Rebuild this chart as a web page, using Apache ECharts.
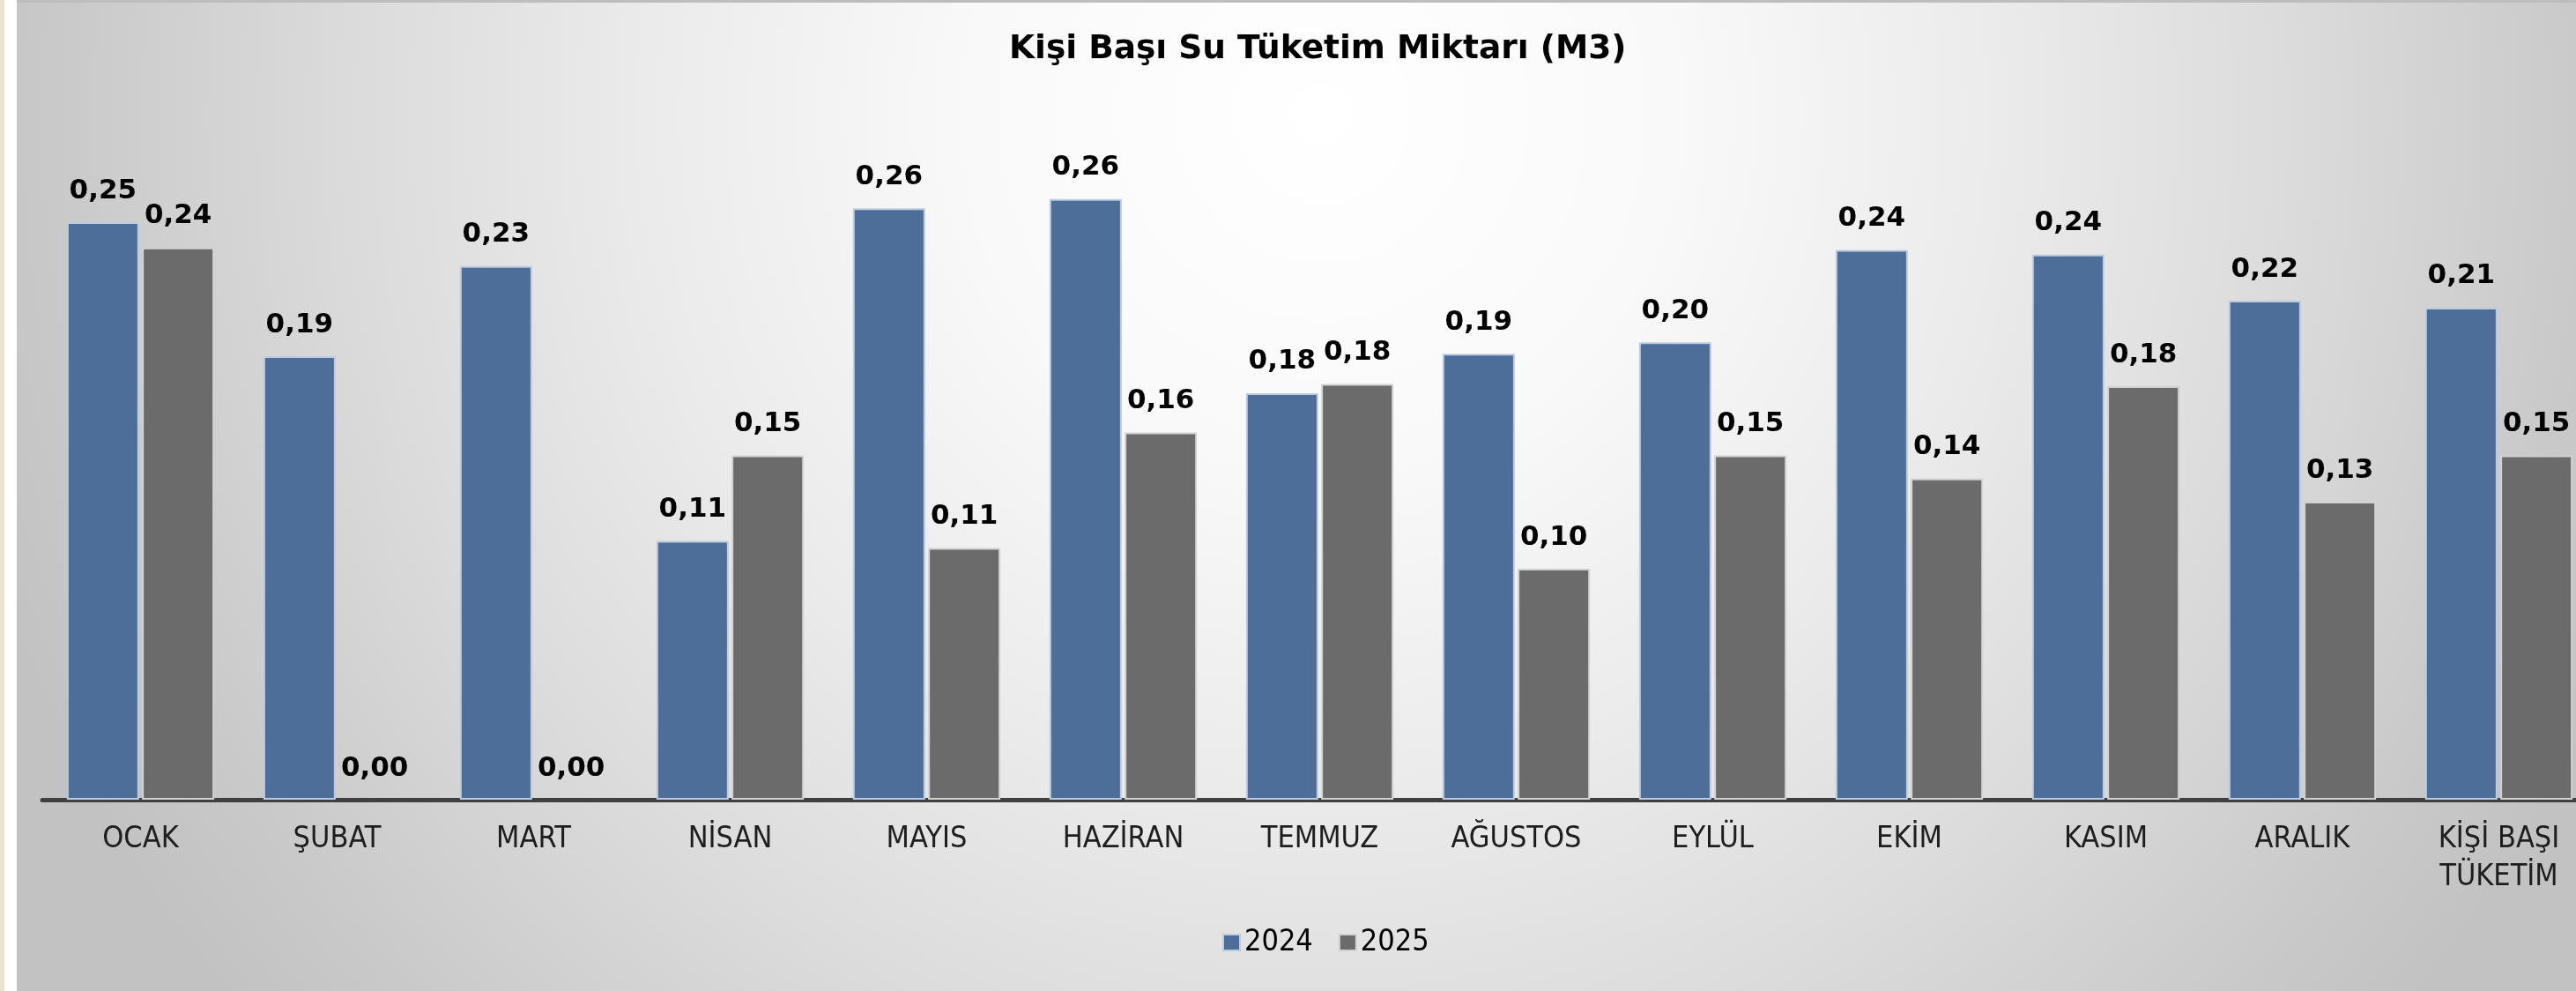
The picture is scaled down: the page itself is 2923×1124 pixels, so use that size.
<!DOCTYPE html>
<html lang="tr">
<head>
    <meta charset="UTF-8">
    <title>Kişi Başı Su Tüketim Miktarı</title>
    <script src="https://cdn.jsdelivr.net/npm/echarts@6/dist/echarts.min.js"></script>
    <style>
        html, body { margin: 0; padding: 0; background: #ffffff; }
    </style>
</head>
<body>
    <div id="main" style="width: 2923px;height:1124px;"></div>
    <script type="text/javascript">
        // aylar ve değerler (resimden okunan tahmini değerler)
        var months = ['OCAK', 'ŞUBAT', 'MART', 'NİSAN', 'MAYIS', 'HAZİRAN', 'TEMMUZ',
            'AĞUSTOS', 'EYLÜL', 'EKİM', 'KASIM', 'ARALIK', 'KİŞİ BAŞI\nTÜKETİM'];
        var years = ['2024', '2025'];
        var values2024 = [0.250, 0.192, 0.231, 0.112, 0.256, 0.260, 0.176, 0.193, 0.198, 0.238, 0.236, 0.216, 0.213];
        var values2025 = [0.239, 0.000, 0.000, 0.149, 0.109, 0.159, 0.180, 0.100, 0.149, 0.139, 0.179, 0.129, 0.149];

        var myChart = echarts.init(document.getElementById('main'));

        var labelFont = 'DejaVu Sans';
        var axisFont = "'DejaVu Sans Condensed', 'DejaVu Sans'";

        // değer etiketi: 0,25 biçiminde
        function fmt(p) {
            return p.value.toFixed(2).replace('.', ',');
        }

        // sıfır değerli çubukta kenarlık çizgisi görünmesin
        function toItems(arr) {
            return arr.map(function (v) {
                return v === 0 ? {value: v, itemStyle: {borderWidth: 0}} : v;
            });
        }

        var valueLabel = {
            show: true,
            position: 'top',
            distance: 20,
            formatter: fmt,
            color: '#000000',
            fontSize: 31,
            fontWeight: 'bold',
            fontFamily: labelFont
        };

        var option = {
            backgroundColor: '#ffffff',
            animation: false,
            // arka plan: sol şerit, üst çizgi, radyal gradyan
            graphic: [
                {type: 'rect', z: -10, shape: {x: 0, y: 0, width: 5, height: 1124}, style: {fill: '#e8e2cf'}},
                {type: 'rect', z: -10, shape: {x: 19, y: 0, width: 2904, height: 1124},
                    style: {
                        fill: {
                            type: 'radial', x: 1500, y: 130, r: 1600, global: true,
                            colorStops: [
                                {offset: 0, color: '#ffffff'},
                                {offset: 0.25, color: '#f9f9f9'},
                                {offset: 0.48, color: '#ebebeb'},
                                {offset: 0.68, color: '#dcdcdc'},
                                {offset: 0.9, color: '#c9c9c9'},
                                {offset: 1, color: '#c2c2c2'}
                            ]
                        }
                    }
                },
                {type: 'rect', z: -9, shape: {x: 19, y: 0, width: 2904, height: 3}, style: {fill: '#bdbdbd'}}
            ],
            title: {
                text: 'Kişi Başı Su Tüketim Miktarı (M3)',
                left: 1145,
                top: 37,
                padding: 0,
                textStyle: {
                    color: '#000000',
                    fontSize: 37.5,
                    fontWeight: 'bold',
                    fontFamily: labelFont
                }
            },
            legend: {
                data: years,
                left: 1387,
                top: 1052,
                padding: 0,
                itemWidth: 19,
                itemHeight: 18,
                itemGap: 29,
                icon: 'rect',
                textStyle: {
                    color: '#000000',
                    fontSize: 34,
                    fontFamily: axisFont
                }
            },
            grid: {
                left: 48,
                top: 121,
                width: 2899,
                height: 786,
                containLabel: false,
                outerBoundsMode: 'none'
            },
            xAxis: {
                type: 'category',
                data: months,
                axisTick: {show: false},
                axisLine: {lineStyle: {color: '#404040', width: 5}},
                axisLabel: {
                    interval: 0,
                    margin: 24,
                    color: '#1e1e1e',
                    fontSize: 34,
                    lineHeight: 43,
                    fontFamily: axisFont
                }
            },
            yAxis: {
                type: 'value',
                min: 0,
                max: 0.3,
                show: false,
                splitLine: {show: false}
            },
            series: [
                {
                    name: years[0],
                    type: 'bar',
                    data: toItems(values2024),
                    barWidth: 82,
                    barGap: '4%',
                    itemStyle: {color: '#4d6e99', borderColor: '#bccbdf', borderWidth: 2},
                    label: valueLabel
                },
                {
                    name: years[1],
                    type: 'bar',
                    data: toItems(values2025),
                    barWidth: 82,
                    barGap: '4%',
                    itemStyle: {color: '#6b6b6b', borderColor: '#d2d2d2', borderWidth: 2},
                    label: valueLabel
                }
            ]
        };

        myChart.setOption(option);
    </script>
</body>
</html>
